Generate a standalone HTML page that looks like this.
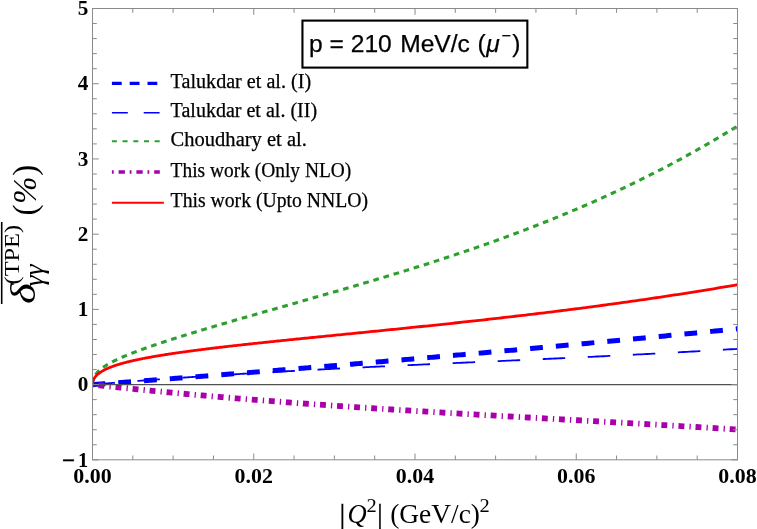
<!DOCTYPE html>
<html><head><meta charset="utf-8"><title>plot</title>
<style>
html,body{margin:0;padding:0;background:#fff;}
svg{display:block;will-change:transform;}
text{font-family:"Liberation Serif",serif;fill:#000;}
.sans{font-family:"Liberation Sans",sans-serif;}
</style></head><body>
<svg width="757" height="529" viewBox="0 0 757 529">
<rect width="757" height="529" fill="#fff"/>
<defs><clipPath id="cp"><rect x="92.5" y="8.50" width="645.0" height="451.32"/></clipPath></defs>
<g clip-path="url(#cp)" fill="none" stroke-linecap="butt" stroke-linejoin="round">
<path d="M92.50,384.60 L92.50,384.60 L92.52,384.60 L92.54,384.60 L92.56,384.60 L92.60,384.59 L92.65,384.59 L92.70,384.59 L92.76,384.58 L92.83,384.58 L92.91,384.57 L92.99,384.56 L93.08,384.56 L93.18,384.55 L93.29,384.54 L93.41,384.53 L93.54,384.52 L93.67,384.51 L93.81,384.50 L93.96,384.49 L94.12,384.48 L94.29,384.47 L94.46,384.46 L94.64,384.44 L94.83,384.43 L95.03,384.41 L95.24,384.40 L95.45,384.38 L95.68,384.37 L95.91,384.35 L96.15,384.33 L96.39,384.31 L96.65,384.29 L96.91,384.27 L97.18,384.25 L97.46,384.23 L97.75,384.21 L98.05,384.19 L98.35,384.17 L98.66,384.14 L98.98,384.12 L99.31,384.10 L99.65,384.07 L99.99,384.05 L100.34,384.02 L100.70,383.99 L101.07,383.97 L101.45,383.94 L101.83,383.91 L102.23,383.88 L102.63,383.85 L103.04,383.82 L103.46,383.79 L103.88,383.76 L104.31,383.73 L104.76,383.69 L105.21,383.66 L105.66,383.63 L106.13,383.59 L106.60,383.56 L107.09,383.52 L107.58,383.48 L108.07,383.45 L108.58,383.41 L109.09,383.37 L109.62,383.33 L110.15,383.29 L110.69,383.25 L111.23,383.21 L111.79,383.17 L112.35,383.13 L112.92,383.08 L113.50,383.04 L114.09,383.00 L114.69,382.95 L115.29,382.91 L115.90,382.86 L116.52,382.82 L117.15,382.77 L117.79,382.72 L118.43,382.67 L119.08,382.62 L119.74,382.58 L120.41,382.53 L121.09,382.47 L121.77,382.42 L122.46,382.37 L123.17,382.32 L123.87,382.27 L124.59,382.21 L125.32,382.16 L126.05,382.10 L126.79,382.05 L127.54,381.99 L128.30,381.93 L129.06,381.88 L129.84,381.82 L130.62,381.76 L131.41,381.70 L132.21,381.64 L133.01,381.58 L133.83,381.52 L134.65,381.45 L135.48,381.39 L136.32,381.33 L137.17,381.26 L138.02,381.20 L138.89,381.13 L139.76,381.07 L140.64,381.00 L141.52,380.94 L142.42,380.87 L143.32,380.80 L144.23,380.73 L145.15,380.66 L146.08,380.59 L147.02,380.52 L147.96,380.45 L148.91,380.37 L149.87,380.30 L150.84,380.23 L151.82,380.15 L152.80,380.08 L153.79,380.00 L154.80,379.93 L155.80,379.85 L156.82,379.77 L157.85,379.69 L158.88,379.62 L159.92,379.54 L160.97,379.46 L162.03,379.37 L163.09,379.29 L164.17,379.21 L165.25,379.13 L166.34,379.04 L167.44,378.96 L168.54,378.88 L169.66,378.79 L170.78,378.70 L171.91,378.62 L173.05,378.53 L174.19,378.44 L175.35,378.35 L176.51,378.26 L177.68,378.17 L178.86,378.08 L180.05,377.99 L181.24,377.90 L182.45,377.80 L183.66,377.71 L184.88,377.62 L186.11,377.52 L187.34,377.43 L188.58,377.33 L189.84,377.23 L191.10,377.13 L192.36,377.04 L193.64,376.94 L194.93,376.84 L196.22,376.74 L197.52,376.63 L198.83,376.53 L200.14,376.43 L201.47,376.33 L202.80,376.22 L204.14,376.12 L205.49,376.01 L206.85,375.91 L208.21,375.80 L209.59,375.69 L210.97,375.58 L212.36,375.47 L213.76,375.36 L215.16,375.25 L216.58,375.14 L218.00,375.03 L219.43,374.92 L220.87,374.80 L222.31,374.69 L223.77,374.58 L225.23,374.46 L226.70,374.34 L228.18,374.23 L229.67,374.11 L231.16,373.99 L232.67,373.87 L234.18,373.75 L235.70,373.63 L237.22,373.51 L238.76,373.39 L240.30,373.27 L241.85,373.14 L243.41,373.02 L244.98,372.89 L246.56,372.77 L248.14,372.64 L249.73,372.51 L251.33,372.38 L252.94,372.26 L254.56,372.13 L256.18,372.00 L257.82,371.87 L259.46,371.73 L261.11,371.60 L262.76,371.47 L264.43,371.33 L266.10,371.20 L267.78,371.06 L269.47,370.93 L271.17,370.79 L272.88,370.65 L274.59,370.51 L276.31,370.37 L278.04,370.23 L279.78,370.09 L281.53,369.95 L283.28,369.81 L285.04,369.66 L286.81,369.52 L288.59,369.38 L290.38,369.23 L292.17,369.08 L293.98,368.94 L295.79,368.79 L297.61,368.64 L299.43,368.49 L301.27,368.34 L303.11,368.19 L304.96,368.04 L306.82,367.88 L308.69,367.73 L310.57,367.58 L312.45,367.42 L314.34,367.26 L316.24,367.11 L318.15,366.95 L320.07,366.79 L321.99,366.63 L323.92,366.47 L325.87,366.31 L327.81,366.15 L329.77,365.99 L331.74,365.82 L333.71,365.66 L335.69,365.49 L337.68,365.33 L339.68,365.16 L341.68,364.99 L343.70,364.83 L345.72,364.66 L347.75,364.49 L349.79,364.32 L351.83,364.14 L353.89,363.97 L355.95,363.80 L358.02,363.62 L360.10,363.45 L362.18,363.27 L364.28,363.10 L366.38,362.92 L368.49,362.74 L370.61,362.56 L372.74,362.38 L374.87,362.20 L377.02,362.02 L379.17,361.83 L381.33,361.65 L383.49,361.47 L385.67,361.28 L387.85,361.09 L390.04,360.91 L392.24,360.72 L394.45,360.53 L396.67,360.34 L398.89,360.15 L401.13,359.96 L403.37,359.77 L405.61,359.57 L407.87,359.38 L410.14,359.18 L412.41,358.99 L414.69,358.79 L416.98,358.59 L419.28,358.39 L421.58,358.19 L423.90,357.99 L426.22,357.79 L428.55,357.59 L430.88,357.38 L433.23,357.18 L435.58,356.97 L437.95,356.77 L440.32,356.56 L442.69,356.35 L445.08,356.14 L447.47,355.93 L449.88,355.72 L452.29,355.51 L454.71,355.30 L457.13,355.09 L459.57,354.87 L462.01,354.65 L464.46,354.44 L466.92,354.22 L469.39,354.00 L471.86,353.78 L474.35,353.56 L476.84,353.34 L479.34,353.12 L481.85,352.90 L484.36,352.67 L486.89,352.45 L489.42,352.22 L491.96,351.99 L494.51,351.77 L497.06,351.54 L499.63,351.31 L502.20,351.07 L504.78,350.84 L507.37,350.61 L509.97,350.38 L512.57,350.14 L515.19,349.90 L517.81,349.67 L520.44,349.43 L523.08,349.19 L525.72,348.95 L528.37,348.71 L531.04,348.47 L533.71,348.22 L536.38,347.98 L539.07,347.73 L541.76,347.49 L544.47,347.24 L547.18,346.99 L549.90,346.74 L552.62,346.49 L555.36,346.24 L558.10,345.99 L560.85,345.74 L563.61,345.48 L566.38,345.23 L569.15,344.97 L571.94,344.71 L574.73,344.45 L577.53,344.19 L580.33,343.93 L583.15,343.67 L585.97,343.41 L588.81,343.14 L591.65,342.88 L594.49,342.61 L597.35,342.35 L600.22,342.08 L603.09,341.81 L605.97,341.54 L608.86,341.27 L611.75,340.99 L614.66,340.72 L617.57,340.45 L620.49,340.17 L623.42,339.89 L626.36,339.61 L629.31,339.34 L632.26,339.06 L635.22,338.77 L638.19,338.49 L641.17,338.21 L644.15,337.92 L647.15,337.64 L650.15,337.35 L653.16,337.06 L656.18,336.77 L659.21,336.48 L662.24,336.19 L665.28,335.90 L668.33,335.60 L671.39,335.31 L674.46,335.01 L677.53,334.72 L680.62,334.42 L683.71,334.12 L686.81,333.82 L689.92,333.51 L693.03,333.21 L696.15,332.91 L699.29,332.60 L702.43,332.30 L705.57,331.99 L708.73,331.68 L711.89,331.37 L715.07,331.06 L718.25,330.74 L721.44,330.43 L724.63,330.12 L727.84,329.80 L731.05,329.48 L734.27,329.16 L737.50,328.84" stroke="#0000ff" stroke-width="5" stroke-dasharray="12.8 13.03"/>
<path d="M92.50,384.60 L92.50,384.60 L92.52,384.60 L92.54,384.60 L92.56,384.59 L92.60,384.59 L92.65,384.59 L92.70,384.58 L92.76,384.58 L92.83,384.57 L92.91,384.57 L92.99,384.56 L93.08,384.55 L93.18,384.54 L93.29,384.53 L93.41,384.52 L93.54,384.51 L93.67,384.50 L93.81,384.49 L93.96,384.48 L94.12,384.46 L94.29,384.45 L94.46,384.43 L94.64,384.42 L94.83,384.40 L95.03,384.38 L95.24,384.37 L95.45,384.35 L95.68,384.33 L95.91,384.31 L96.15,384.29 L96.39,384.27 L96.65,384.25 L96.91,384.22 L97.18,384.20 L97.46,384.18 L97.75,384.15 L98.05,384.13 L98.35,384.10 L98.66,384.08 L98.98,384.05 L99.31,384.02 L99.65,383.99 L99.99,383.96 L100.34,383.94 L100.70,383.91 L101.07,383.87 L101.45,383.84 L101.83,383.81 L102.23,383.78 L102.63,383.74 L103.04,383.71 L103.46,383.68 L103.88,383.64 L104.31,383.60 L104.76,383.57 L105.21,383.53 L105.66,383.49 L106.13,383.45 L106.60,383.41 L107.09,383.37 L107.58,383.33 L108.07,383.29 L108.58,383.25 L109.09,383.21 L109.62,383.17 L110.15,383.12 L110.69,383.08 L111.23,383.03 L111.79,382.99 L112.35,382.94 L112.92,382.90 L113.50,382.85 L114.09,382.80 L114.69,382.75 L115.29,382.70 L115.90,382.65 L116.52,382.60 L117.15,382.55 L117.79,382.50 L118.43,382.45 L119.08,382.40 L119.74,382.35 L120.41,382.29 L121.09,382.24 L121.77,382.18 L122.46,382.13 L123.17,382.07 L123.87,382.02 L124.59,381.96 L125.32,381.90 L126.05,381.84 L126.79,381.79 L127.54,381.73 L128.30,381.67 L129.06,381.61 L129.84,381.55 L130.62,381.49 L131.41,381.42 L132.21,381.36 L133.01,381.30 L133.83,381.24 L134.65,381.17 L135.48,381.11 L136.32,381.04 L137.17,380.98 L138.02,380.91 L138.89,380.85 L139.76,380.78 L140.64,380.71 L141.52,380.65 L142.42,380.58 L143.32,380.51 L144.23,380.44 L145.15,380.37 L146.08,380.30 L147.02,380.23 L147.96,380.16 L148.91,380.09 L149.87,380.02 L150.84,379.95 L151.82,379.88 L152.80,379.80 L153.79,379.73 L154.80,379.66 L155.80,379.58 L156.82,379.51 L157.85,379.43 L158.88,379.36 L159.92,379.28 L160.97,379.20 L162.03,379.13 L163.09,379.05 L164.17,378.97 L165.25,378.90 L166.34,378.82 L167.44,378.74 L168.54,378.66 L169.66,378.58 L170.78,378.50 L171.91,378.42 L173.05,378.34 L174.19,378.26 L175.35,378.18 L176.51,378.10 L177.68,378.02 L178.86,377.94 L180.05,377.85 L181.24,377.77 L182.45,377.69 L183.66,377.60 L184.88,377.52 L186.11,377.44 L187.34,377.35 L188.58,377.27 L189.84,377.18 L191.10,377.10 L192.36,377.01 L193.64,376.93 L194.93,376.84 L196.22,376.75 L197.52,376.67 L198.83,376.58 L200.14,376.49 L201.47,376.40 L202.80,376.32 L204.14,376.23 L205.49,376.14 L206.85,376.05 L208.21,375.96 L209.59,375.87 L210.97,375.79 L212.36,375.70 L213.76,375.61 L215.16,375.52 L216.58,375.43 L218.00,375.34 L219.43,375.24 L220.87,375.15 L222.31,375.06 L223.77,374.97 L225.23,374.88 L226.70,374.79 L228.18,374.70 L229.67,374.60 L231.16,374.51 L232.67,374.42 L234.18,374.33 L235.70,374.23 L237.22,374.14 L238.76,374.05 L240.30,373.95 L241.85,373.86 L243.41,373.77 L244.98,373.67 L246.56,373.58 L248.14,373.48 L249.73,373.39 L251.33,373.29 L252.94,373.20 L254.56,373.10 L256.18,373.01 L257.82,372.91 L259.46,372.82 L261.11,372.72 L262.76,372.63 L264.43,372.53 L266.10,372.43 L267.78,372.34 L269.47,372.24 L271.17,372.14 L272.88,372.05 L274.59,371.95 L276.31,371.85 L278.04,371.76 L279.78,371.66 L281.53,371.56 L283.28,371.47 L285.04,371.37 L286.81,371.27 L288.59,371.17 L290.38,371.07 L292.17,370.98 L293.98,370.88 L295.79,370.78 L297.61,370.68 L299.43,370.58 L301.27,370.48 L303.11,370.39 L304.96,370.29 L306.82,370.19 L308.69,370.09 L310.57,369.99 L312.45,369.89 L314.34,369.79 L316.24,369.69 L318.15,369.59 L320.07,369.49 L321.99,369.39 L323.92,369.29 L325.87,369.19 L327.81,369.09 L329.77,368.99 L331.74,368.89 L333.71,368.79 L335.69,368.69 L337.68,368.59 L339.68,368.49 L341.68,368.39 L343.70,368.29 L345.72,368.19 L347.75,368.09 L349.79,367.99 L351.83,367.89 L353.89,367.79 L355.95,367.68 L358.02,367.58 L360.10,367.48 L362.18,367.38 L364.28,367.28 L366.38,367.18 L368.49,367.07 L370.61,366.97 L372.74,366.87 L374.87,366.77 L377.02,366.66 L379.17,366.56 L381.33,366.46 L383.49,366.35 L385.67,366.25 L387.85,366.15 L390.04,366.04 L392.24,365.94 L394.45,365.84 L396.67,365.73 L398.89,365.63 L401.13,365.53 L403.37,365.42 L405.61,365.32 L407.87,365.21 L410.14,365.11 L412.41,365.00 L414.69,364.90 L416.98,364.79 L419.28,364.69 L421.58,364.58 L423.90,364.47 L426.22,364.37 L428.55,364.26 L430.88,364.15 L433.23,364.05 L435.58,363.94 L437.95,363.83 L440.32,363.73 L442.69,363.62 L445.08,363.51 L447.47,363.40 L449.88,363.29 L452.29,363.18 L454.71,363.07 L457.13,362.96 L459.57,362.86 L462.01,362.74 L464.46,362.63 L466.92,362.52 L469.39,362.41 L471.86,362.30 L474.35,362.19 L476.84,362.08 L479.34,361.97 L481.85,361.85 L484.36,361.74 L486.89,361.63 L489.42,361.51 L491.96,361.40 L494.51,361.28 L497.06,361.17 L499.63,361.05 L502.20,360.94 L504.78,360.82 L507.37,360.70 L509.97,360.59 L512.57,360.47 L515.19,360.35 L517.81,360.23 L520.44,360.11 L523.08,359.99 L525.72,359.87 L528.37,359.75 L531.04,359.63 L533.71,359.51 L536.38,359.39 L539.07,359.26 L541.76,359.14 L544.47,359.02 L547.18,358.89 L549.90,358.76 L552.62,358.64 L555.36,358.51 L558.10,358.38 L560.85,358.26 L563.61,358.13 L566.38,358.00 L569.15,357.87 L571.94,357.74 L574.73,357.60 L577.53,357.47 L580.33,357.34 L583.15,357.20 L585.97,357.07 L588.81,356.93 L591.65,356.79 L594.49,356.66 L597.35,356.52 L600.22,356.38 L603.09,356.24 L605.97,356.10 L608.86,355.95 L611.75,355.81 L614.66,355.67 L617.57,355.52 L620.49,355.37 L623.42,355.23 L626.36,355.08 L629.31,354.93 L632.26,354.78 L635.22,354.63 L638.19,354.47 L641.17,354.32 L644.15,354.16 L647.15,354.01 L650.15,353.85 L653.16,353.69 L656.18,353.53 L659.21,353.37 L662.24,353.20 L665.28,353.04 L668.33,352.87 L671.39,352.71 L674.46,352.54 L677.53,352.37 L680.62,352.20 L683.71,352.02 L686.81,351.85 L689.92,351.67 L693.03,351.50 L696.15,351.32 L699.29,351.14 L702.43,350.95 L705.57,350.77 L708.73,350.58 L711.89,350.40 L715.07,350.21 L718.25,350.02 L721.44,349.82 L724.63,349.63 L727.84,349.43 L731.05,349.24 L734.27,349.04 L737.50,348.83" stroke="#0000ff" stroke-width="1.8" stroke-dasharray="22.5 22.6"/>
<path d="M92.50,384.60 L92.50,384.20 L92.52,383.80 L92.54,383.41 L92.56,383.01 L92.60,382.63 L92.65,382.24 L92.70,381.86 L92.76,381.49 L92.83,381.12 L92.91,380.75 L92.99,380.38 L93.08,380.01 L93.18,379.65 L93.29,379.30 L93.41,378.94 L93.54,378.59 L93.67,378.24 L93.81,377.89 L93.96,377.55 L94.12,377.21 L94.29,376.87 L94.46,376.53 L94.64,376.19 L94.83,375.86 L95.03,375.53 L95.24,375.20 L95.45,374.87 L95.68,374.55 L95.91,374.23 L96.15,373.90 L96.39,373.58 L96.65,373.27 L96.91,372.95 L97.18,372.64 L97.46,372.32 L97.75,372.01 L98.05,371.70 L98.35,371.39 L98.66,371.08 L98.98,370.77 L99.31,370.47 L99.65,370.16 L99.99,369.86 L100.34,369.55 L100.70,369.25 L101.07,368.95 L101.45,368.65 L101.83,368.35 L102.23,368.05 L102.63,367.75 L103.04,367.46 L103.46,367.16 L103.88,366.86 L104.31,366.56 L104.76,366.27 L105.21,365.97 L105.66,365.68 L106.13,365.38 L106.60,365.09 L107.09,364.79 L107.58,364.50 L108.07,364.20 L108.58,363.91 L109.09,363.62 L109.62,363.32 L110.15,363.03 L110.69,362.73 L111.23,362.44 L111.79,362.15 L112.35,361.85 L112.92,361.56 L113.50,361.26 L114.09,360.97 L114.69,360.67 L115.29,360.37 L115.90,360.08 L116.52,359.78 L117.15,359.48 L117.79,359.19 L118.43,358.89 L119.08,358.59 L119.74,358.29 L120.41,357.99 L121.09,357.69 L121.77,357.39 L122.46,357.09 L123.17,356.79 L123.87,356.48 L124.59,356.18 L125.32,355.88 L126.05,355.57 L126.79,355.26 L127.54,354.96 L128.30,354.65 L129.06,354.34 L129.84,354.03 L130.62,353.72 L131.41,353.41 L132.21,353.10 L133.01,352.79 L133.83,352.47 L134.65,352.16 L135.48,351.84 L136.32,351.53 L137.17,351.21 L138.02,350.89 L138.89,350.57 L139.76,350.25 L140.64,349.93 L141.52,349.60 L142.42,349.28 L143.32,348.95 L144.23,348.63 L145.15,348.30 L146.08,347.97 L147.02,347.64 L147.96,347.31 L148.91,346.98 L149.87,346.64 L150.84,346.31 L151.82,345.97 L152.80,345.63 L153.79,345.29 L154.80,344.95 L155.80,344.61 L156.82,344.27 L157.85,343.93 L158.88,343.58 L159.92,343.23 L160.97,342.89 L162.03,342.54 L163.09,342.18 L164.17,341.83 L165.25,341.48 L166.34,341.12 L167.44,340.77 L168.54,340.41 L169.66,340.05 L170.78,339.69 L171.91,339.33 L173.05,338.96 L174.19,338.60 L175.35,338.23 L176.51,337.86 L177.68,337.49 L178.86,337.12 L180.05,336.75 L181.24,336.38 L182.45,336.00 L183.66,335.62 L184.88,335.24 L186.11,334.86 L187.34,334.48 L188.58,334.10 L189.84,333.71 L191.10,333.33 L192.36,332.94 L193.64,332.55 L194.93,332.16 L196.22,331.77 L197.52,331.37 L198.83,330.98 L200.14,330.58 L201.47,330.18 L202.80,329.78 L204.14,329.38 L205.49,328.97 L206.85,328.57 L208.21,328.16 L209.59,327.75 L210.97,327.34 L212.36,326.93 L213.76,326.51 L215.16,326.10 L216.58,325.68 L218.00,325.26 L219.43,324.84 L220.87,324.42 L222.31,323.99 L223.77,323.57 L225.23,323.14 L226.70,322.71 L228.18,322.28 L229.67,321.84 L231.16,321.41 L232.67,320.97 L234.18,320.53 L235.70,320.09 L237.22,319.65 L238.76,319.20 L240.30,318.76 L241.85,318.31 L243.41,317.86 L244.98,317.41 L246.56,316.95 L248.14,316.50 L249.73,316.04 L251.33,315.58 L252.94,315.12 L254.56,314.66 L256.18,314.19 L257.82,313.72 L259.46,313.25 L261.11,312.78 L262.76,312.31 L264.43,311.83 L266.10,311.36 L267.78,310.88 L269.47,310.39 L271.17,309.91 L272.88,309.42 L274.59,308.94 L276.31,308.44 L278.04,307.95 L279.78,307.46 L281.53,306.96 L283.28,306.46 L285.04,305.96 L286.81,305.45 L288.59,304.95 L290.38,304.44 L292.17,303.93 L293.98,303.42 L295.79,302.90 L297.61,302.38 L299.43,301.86 L301.27,301.34 L303.11,300.81 L304.96,300.28 L306.82,299.75 L308.69,299.22 L310.57,298.68 L312.45,298.14 L314.34,297.60 L316.24,297.06 L318.15,296.51 L320.07,295.96 L321.99,295.41 L323.92,294.86 L325.87,294.30 L327.81,293.74 L329.77,293.17 L331.74,292.61 L333.71,292.04 L335.69,291.47 L337.68,290.89 L339.68,290.31 L341.68,289.73 L343.70,289.14 L345.72,288.56 L347.75,287.97 L349.79,287.37 L351.83,286.77 L353.89,286.17 L355.95,285.57 L358.02,284.96 L360.10,284.35 L362.18,283.73 L364.28,283.11 L366.38,282.49 L368.49,281.87 L370.61,281.24 L372.74,280.60 L374.87,279.97 L377.02,279.33 L379.17,278.68 L381.33,278.03 L383.49,277.38 L385.67,276.72 L387.85,276.06 L390.04,275.40 L392.24,274.73 L394.45,274.06 L396.67,273.38 L398.89,272.70 L401.13,272.01 L403.37,271.32 L405.61,270.63 L407.87,269.93 L410.14,269.22 L412.41,268.51 L414.69,267.80 L416.98,267.08 L419.28,266.36 L421.58,265.63 L423.90,264.90 L426.22,264.16 L428.55,263.42 L430.88,262.67 L433.23,261.91 L435.58,261.15 L437.95,260.39 L440.32,259.62 L442.69,258.84 L445.08,258.06 L447.47,257.27 L449.88,256.48 L452.29,255.68 L454.71,254.88 L457.13,254.07 L459.57,253.25 L462.01,252.43 L464.46,251.60 L466.92,250.76 L469.39,249.92 L471.86,249.07 L474.35,248.22 L476.84,247.35 L479.34,246.49 L481.85,245.61 L484.36,244.73 L486.89,243.84 L489.42,242.94 L491.96,242.04 L494.51,241.13 L497.06,240.21 L499.63,239.28 L502.20,238.35 L504.78,237.41 L507.37,236.46 L509.97,235.50 L512.57,234.54 L515.19,233.56 L517.81,232.58 L520.44,231.59 L523.08,230.59 L525.72,229.59 L528.37,228.57 L531.04,227.55 L533.71,226.51 L536.38,225.47 L539.07,224.42 L541.76,223.36 L544.47,222.29 L547.18,221.21 L549.90,220.12 L552.62,219.03 L555.36,217.92 L558.10,216.80 L560.85,215.67 L563.61,214.53 L566.38,213.39 L569.15,212.23 L571.94,211.06 L574.73,209.88 L577.53,208.69 L580.33,207.48 L583.15,206.27 L585.97,205.05 L588.81,203.81 L591.65,202.56 L594.49,201.30 L597.35,200.03 L600.22,198.75 L603.09,197.46 L605.97,196.15 L608.86,194.83 L611.75,193.50 L614.66,192.15 L617.57,190.80 L620.49,189.43 L623.42,188.04 L626.36,186.65 L629.31,185.24 L632.26,183.81 L635.22,182.38 L638.19,180.93 L641.17,179.46 L644.15,177.98 L647.15,176.49 L650.15,174.98 L653.16,173.46 L656.18,171.92 L659.21,170.36 L662.24,168.80 L665.28,167.21 L668.33,165.61 L671.39,164.00 L674.46,162.37 L677.53,160.72 L680.62,159.06 L683.71,157.38 L686.81,155.68 L689.92,153.96 L693.03,152.23 L696.15,150.49 L699.29,148.72 L702.43,146.94 L705.57,145.14 L708.73,143.32 L711.89,141.48 L715.07,139.62 L718.25,137.75 L721.44,135.86 L724.63,133.94 L727.84,132.01 L731.05,130.06 L734.27,128.09 L737.50,126.10" stroke="#2ca02c" stroke-width="3.1" stroke-dasharray="5.7 4.836"/>
<path d="M92.50,384.60 L92.50,384.60 L92.52,384.60 L92.54,384.60 L92.56,384.61 L92.60,384.61 L92.65,384.62 L92.70,384.62 L92.76,384.63 L92.83,384.64 L92.91,384.64 L92.99,384.65 L93.08,384.66 L93.18,384.68 L93.29,384.69 L93.41,384.70 L93.54,384.71 L93.67,384.73 L93.81,384.74 L93.96,384.76 L94.12,384.78 L94.29,384.80 L94.46,384.82 L94.64,384.84 L94.83,384.86 L95.03,384.88 L95.24,384.90 L95.45,384.92 L95.68,384.95 L95.91,384.97 L96.15,385.00 L96.39,385.03 L96.65,385.06 L96.91,385.08 L97.18,385.11 L97.46,385.14 L97.75,385.18 L98.05,385.21 L98.35,385.24 L98.66,385.28 L98.98,385.31 L99.31,385.35 L99.65,385.38 L99.99,385.42 L100.34,385.46 L100.70,385.50 L101.07,385.54 L101.45,385.58 L101.83,385.62 L102.23,385.66 L102.63,385.71 L103.04,385.75 L103.46,385.80 L103.88,385.84 L104.31,385.89 L104.76,385.94 L105.21,385.98 L105.66,386.03 L106.13,386.08 L106.60,386.13 L107.09,386.19 L107.58,386.24 L108.07,386.29 L108.58,386.35 L109.09,386.40 L109.62,386.46 L110.15,386.51 L110.69,386.57 L111.23,386.63 L111.79,386.69 L112.35,386.75 L112.92,386.81 L113.50,386.87 L114.09,386.93 L114.69,386.99 L115.29,387.06 L115.90,387.12 L116.52,387.19 L117.15,387.25 L117.79,387.32 L118.43,387.39 L119.08,387.45 L119.74,387.52 L120.41,387.59 L121.09,387.66 L121.77,387.73 L122.46,387.81 L123.17,387.88 L123.87,387.95 L124.59,388.03 L125.32,388.10 L126.05,388.18 L126.79,388.25 L127.54,388.33 L128.30,388.41 L129.06,388.49 L129.84,388.56 L130.62,388.64 L131.41,388.72 L132.21,388.81 L133.01,388.89 L133.83,388.97 L134.65,389.05 L135.48,389.14 L136.32,389.22 L137.17,389.31 L138.02,389.39 L138.89,389.48 L139.76,389.57 L140.64,389.65 L141.52,389.74 L142.42,389.83 L143.32,389.92 L144.23,390.01 L145.15,390.10 L146.08,390.19 L147.02,390.29 L147.96,390.38 L148.91,390.47 L149.87,390.57 L150.84,390.66 L151.82,390.76 L152.80,390.85 L153.79,390.95 L154.80,391.05 L155.80,391.14 L156.82,391.24 L157.85,391.34 L158.88,391.44 L159.92,391.54 L160.97,391.64 L162.03,391.74 L163.09,391.84 L164.17,391.95 L165.25,392.05 L166.34,392.15 L167.44,392.26 L168.54,392.36 L169.66,392.47 L170.78,392.57 L171.91,392.68 L173.05,392.78 L174.19,392.89 L175.35,393.00 L176.51,393.11 L177.68,393.21 L178.86,393.32 L180.05,393.43 L181.24,393.54 L182.45,393.65 L183.66,393.76 L184.88,393.88 L186.11,393.99 L187.34,394.10 L188.58,394.21 L189.84,394.32 L191.10,394.44 L192.36,394.55 L193.64,394.67 L194.93,394.78 L196.22,394.90 L197.52,395.01 L198.83,395.13 L200.14,395.25 L201.47,395.36 L202.80,395.48 L204.14,395.60 L205.49,395.72 L206.85,395.83 L208.21,395.95 L209.59,396.07 L210.97,396.19 L212.36,396.31 L213.76,396.43 L215.16,396.55 L216.58,396.67 L218.00,396.80 L219.43,396.92 L220.87,397.04 L222.31,397.16 L223.77,397.28 L225.23,397.41 L226.70,397.53 L228.18,397.65 L229.67,397.78 L231.16,397.90 L232.67,398.03 L234.18,398.15 L235.70,398.28 L237.22,398.40 L238.76,398.53 L240.30,398.66 L241.85,398.78 L243.41,398.91 L244.98,399.04 L246.56,399.16 L248.14,399.29 L249.73,399.42 L251.33,399.55 L252.94,399.67 L254.56,399.80 L256.18,399.93 L257.82,400.06 L259.46,400.19 L261.11,400.32 L262.76,400.45 L264.43,400.58 L266.10,400.71 L267.78,400.84 L269.47,400.97 L271.17,401.10 L272.88,401.23 L274.59,401.36 L276.31,401.49 L278.04,401.63 L279.78,401.76 L281.53,401.89 L283.28,402.02 L285.04,402.15 L286.81,402.29 L288.59,402.42 L290.38,402.55 L292.17,402.69 L293.98,402.82 L295.79,402.95 L297.61,403.09 L299.43,403.22 L301.27,403.35 L303.11,403.49 L304.96,403.62 L306.82,403.76 L308.69,403.89 L310.57,404.03 L312.45,404.16 L314.34,404.30 L316.24,404.43 L318.15,404.57 L320.07,404.70 L321.99,404.84 L323.92,404.97 L325.87,405.11 L327.81,405.24 L329.77,405.38 L331.74,405.52 L333.71,405.65 L335.69,405.79 L337.68,405.92 L339.68,406.06 L341.68,406.20 L343.70,406.33 L345.72,406.47 L347.75,406.61 L349.79,406.74 L351.83,406.88 L353.89,407.02 L355.95,407.16 L358.02,407.29 L360.10,407.43 L362.18,407.57 L364.28,407.71 L366.38,407.84 L368.49,407.98 L370.61,408.12 L372.74,408.26 L374.87,408.40 L377.02,408.54 L379.17,408.67 L381.33,408.81 L383.49,408.95 L385.67,409.09 L387.85,409.23 L390.04,409.37 L392.24,409.51 L394.45,409.65 L396.67,409.78 L398.89,409.92 L401.13,410.06 L403.37,410.20 L405.61,410.34 L407.87,410.48 L410.14,410.62 L412.41,410.76 L414.69,410.90 L416.98,411.04 L419.28,411.18 L421.58,411.32 L423.90,411.46 L426.22,411.60 L428.55,411.74 L430.88,411.89 L433.23,412.03 L435.58,412.17 L437.95,412.31 L440.32,412.45 L442.69,412.59 L445.08,412.73 L447.47,412.87 L449.88,413.02 L452.29,413.16 L454.71,413.30 L457.13,413.44 L459.57,413.59 L462.01,413.73 L464.46,413.87 L466.92,414.01 L469.39,414.16 L471.86,414.30 L474.35,414.44 L476.84,414.59 L479.34,414.73 L481.85,414.88 L484.36,415.02 L486.89,415.17 L489.42,415.31 L491.96,415.46 L494.51,415.60 L497.06,415.75 L499.63,415.89 L502.20,416.04 L504.78,416.18 L507.37,416.33 L509.97,416.48 L512.57,416.62 L515.19,416.77 L517.81,416.92 L520.44,417.07 L523.08,417.21 L525.72,417.36 L528.37,417.51 L531.04,417.66 L533.71,417.81 L536.38,417.96 L539.07,418.11 L541.76,418.26 L544.47,418.41 L547.18,418.56 L549.90,418.71 L552.62,418.87 L555.36,419.02 L558.10,419.17 L560.85,419.32 L563.61,419.48 L566.38,419.63 L569.15,419.78 L571.94,419.94 L574.73,420.10 L577.53,420.25 L580.33,420.41 L583.15,420.56 L585.97,420.72 L588.81,420.88 L591.65,421.04 L594.49,421.20 L597.35,421.36 L600.22,421.52 L603.09,421.68 L605.97,421.84 L608.86,422.00 L611.75,422.16 L614.66,422.33 L617.57,422.49 L620.49,422.65 L623.42,422.82 L626.36,422.98 L629.31,423.15 L632.26,423.32 L635.22,423.49 L638.19,423.65 L641.17,423.82 L644.15,423.99 L647.15,424.17 L650.15,424.34 L653.16,424.51 L656.18,424.68 L659.21,424.86 L662.24,425.03 L665.28,425.21 L668.33,425.39 L671.39,425.56 L674.46,425.74 L677.53,425.92 L680.62,426.10 L683.71,426.29 L686.81,426.47 L689.92,426.65 L693.03,426.84 L696.15,427.02 L699.29,427.21 L702.43,427.40 L705.57,427.59 L708.73,427.78 L711.89,427.97 L715.07,428.16 L718.25,428.36 L721.44,428.55 L724.63,428.75 L727.84,428.95 L731.05,429.15 L734.27,429.35 L737.50,429.55" stroke="#aa00aa" stroke-width="5.8" stroke-dasharray="1.3 4.8 5.9 5.1"/>
<path d="M92.50,384.60 L92.50,384.27 L92.52,383.95 L92.54,383.63 L92.56,383.31 L92.60,383.00 L92.65,382.68 L92.70,382.37 L92.76,382.06 L92.83,381.76 L92.91,381.45 L92.99,381.15 L93.08,380.85 L93.18,380.55 L93.29,380.26 L93.41,379.97 L93.54,379.67 L93.67,379.39 L93.81,379.10 L93.96,378.82 L94.12,378.53 L94.29,378.25 L94.46,377.97 L94.64,377.70 L94.83,377.42 L95.03,377.15 L95.24,376.88 L95.45,376.61 L95.68,376.35 L95.91,376.08 L96.15,375.82 L96.39,375.56 L96.65,375.30 L96.91,375.04 L97.18,374.78 L97.46,374.53 L97.75,374.28 L98.05,374.02 L98.35,373.77 L98.66,373.53 L98.98,373.28 L99.31,373.04 L99.65,372.79 L99.99,372.55 L100.34,372.31 L100.70,372.07 L101.07,371.83 L101.45,371.60 L101.83,371.36 L102.23,371.13 L102.63,370.90 L103.04,370.67 L103.46,370.44 L103.88,370.21 L104.31,369.99 L104.76,369.76 L105.21,369.54 L105.66,369.31 L106.13,369.09 L106.60,368.87 L107.09,368.65 L107.58,368.44 L108.07,368.22 L108.58,368.00 L109.09,367.79 L109.62,367.57 L110.15,367.36 L110.69,367.15 L111.23,366.94 L111.79,366.73 L112.35,366.52 L112.92,366.32 L113.50,366.11 L114.09,365.90 L114.69,365.70 L115.29,365.50 L115.90,365.29 L116.52,365.09 L117.15,364.89 L117.79,364.69 L118.43,364.49 L119.08,364.30 L119.74,364.10 L120.41,363.90 L121.09,363.71 L121.77,363.51 L122.46,363.32 L123.17,363.12 L123.87,362.93 L124.59,362.74 L125.32,362.55 L126.05,362.36 L126.79,362.17 L127.54,361.98 L128.30,361.79 L129.06,361.60 L129.84,361.42 L130.62,361.23 L131.41,361.04 L132.21,360.86 L133.01,360.67 L133.83,360.49 L134.65,360.31 L135.48,360.12 L136.32,359.94 L137.17,359.76 L138.02,359.58 L138.89,359.40 L139.76,359.22 L140.64,359.04 L141.52,358.86 L142.42,358.68 L143.32,358.50 L144.23,358.32 L145.15,358.15 L146.08,357.97 L147.02,357.79 L147.96,357.62 L148.91,357.44 L149.87,357.26 L150.84,357.09 L151.82,356.91 L152.80,356.74 L153.79,356.56 L154.80,356.39 L155.80,356.22 L156.82,356.04 L157.85,355.87 L158.88,355.70 L159.92,355.53 L160.97,355.35 L162.03,355.18 L163.09,355.01 L164.17,354.84 L165.25,354.67 L166.34,354.50 L167.44,354.33 L168.54,354.16 L169.66,353.99 L170.78,353.82 L171.91,353.65 L173.05,353.48 L174.19,353.31 L175.35,353.14 L176.51,352.97 L177.68,352.80 L178.86,352.63 L180.05,352.46 L181.24,352.29 L182.45,352.13 L183.66,351.96 L184.88,351.79 L186.11,351.62 L187.34,351.45 L188.58,351.28 L189.84,351.12 L191.10,350.95 L192.36,350.78 L193.64,350.61 L194.93,350.44 L196.22,350.28 L197.52,350.11 L198.83,349.94 L200.14,349.77 L201.47,349.60 L202.80,349.44 L204.14,349.27 L205.49,349.10 L206.85,348.93 L208.21,348.76 L209.59,348.59 L210.97,348.43 L212.36,348.26 L213.76,348.09 L215.16,347.92 L216.58,347.75 L218.00,347.58 L219.43,347.41 L220.87,347.24 L222.31,347.08 L223.77,346.91 L225.23,346.74 L226.70,346.57 L228.18,346.40 L229.67,346.23 L231.16,346.06 L232.67,345.89 L234.18,345.72 L235.70,345.54 L237.22,345.37 L238.76,345.20 L240.30,345.03 L241.85,344.86 L243.41,344.69 L244.98,344.51 L246.56,344.34 L248.14,344.17 L249.73,344.00 L251.33,343.82 L252.94,343.65 L254.56,343.47 L256.18,343.30 L257.82,343.13 L259.46,342.95 L261.11,342.77 L262.76,342.60 L264.43,342.42 L266.10,342.25 L267.78,342.07 L269.47,341.89 L271.17,341.72 L272.88,341.54 L274.59,341.36 L276.31,341.18 L278.04,341.00 L279.78,340.82 L281.53,340.64 L283.28,340.46 L285.04,340.28 L286.81,340.10 L288.59,339.92 L290.38,339.73 L292.17,339.55 L293.98,339.37 L295.79,339.18 L297.61,339.00 L299.43,338.81 L301.27,338.63 L303.11,338.44 L304.96,338.25 L306.82,338.07 L308.69,337.88 L310.57,337.69 L312.45,337.50 L314.34,337.31 L316.24,337.12 L318.15,336.93 L320.07,336.74 L321.99,336.54 L323.92,336.35 L325.87,336.16 L327.81,335.96 L329.77,335.77 L331.74,335.57 L333.71,335.37 L335.69,335.18 L337.68,334.98 L339.68,334.78 L341.68,334.58 L343.70,334.38 L345.72,334.18 L347.75,333.97 L349.79,333.77 L351.83,333.57 L353.89,333.36 L355.95,333.16 L358.02,332.95 L360.10,332.74 L362.18,332.53 L364.28,332.32 L366.38,332.11 L368.49,331.90 L370.61,331.69 L372.74,331.48 L374.87,331.26 L377.02,331.05 L379.17,330.83 L381.33,330.61 L383.49,330.39 L385.67,330.17 L387.85,329.95 L390.04,329.73 L392.24,329.51 L394.45,329.29 L396.67,329.06 L398.89,328.83 L401.13,328.61 L403.37,328.38 L405.61,328.15 L407.87,327.92 L410.14,327.69 L412.41,327.45 L414.69,327.22 L416.98,326.98 L419.28,326.74 L421.58,326.50 L423.90,326.26 L426.22,326.02 L428.55,325.78 L430.88,325.54 L433.23,325.29 L435.58,325.04 L437.95,324.79 L440.32,324.54 L442.69,324.29 L445.08,324.04 L447.47,323.79 L449.88,323.53 L452.29,323.27 L454.71,323.01 L457.13,322.75 L459.57,322.49 L462.01,322.23 L464.46,321.96 L466.92,321.69 L469.39,321.42 L471.86,321.15 L474.35,320.88 L476.84,320.60 L479.34,320.33 L481.85,320.05 L484.36,319.77 L486.89,319.49 L489.42,319.21 L491.96,318.92 L494.51,318.63 L497.06,318.34 L499.63,318.05 L502.20,317.76 L504.78,317.46 L507.37,317.17 L509.97,316.87 L512.57,316.56 L515.19,316.26 L517.81,315.95 L520.44,315.65 L523.08,315.34 L525.72,315.02 L528.37,314.71 L531.04,314.39 L533.71,314.07 L536.38,313.75 L539.07,313.43 L541.76,313.10 L544.47,312.77 L547.18,312.44 L549.90,312.11 L552.62,311.77 L555.36,311.43 L558.10,311.09 L560.85,310.75 L563.61,310.40 L566.38,310.05 L569.15,309.70 L571.94,309.35 L574.73,308.99 L577.53,308.63 L580.33,308.27 L583.15,307.90 L585.97,307.53 L588.81,307.16 L591.65,306.79 L594.49,306.41 L597.35,306.03 L600.22,305.65 L603.09,305.26 L605.97,304.87 L608.86,304.48 L611.75,304.08 L614.66,303.68 L617.57,303.28 L620.49,302.88 L623.42,302.47 L626.36,302.06 L629.31,301.64 L632.26,301.22 L635.22,300.80 L638.19,300.38 L641.17,299.95 L644.15,299.52 L647.15,299.08 L650.15,298.64 L653.16,298.20 L656.18,297.75 L659.21,297.30 L662.24,296.85 L665.28,296.39 L668.33,295.93 L671.39,295.46 L674.46,294.99 L677.53,294.52 L680.62,294.04 L683.71,293.56 L686.81,293.07 L689.92,292.58 L693.03,292.09 L696.15,291.59 L699.29,291.09 L702.43,290.58 L705.57,290.07 L708.73,289.55 L711.89,289.03 L715.07,288.51 L718.25,287.98 L721.44,287.45 L724.63,286.91 L727.84,286.37 L731.05,285.82 L734.27,285.27 L737.50,284.71" stroke="#ff0000" stroke-width="2.8"/>
</g>
<!-- zero axis -->
<line x1="92.5" y1="384.6" x2="737.5" y2="384.6" stroke="#505050" stroke-width="1.05"/>
<!-- frame -->
<g stroke="#8a8a8a" stroke-width="1" fill="none">
<rect x="92.5" y="8.50" width="645.0" height="451.32"/>
<line x1="92.50" y1="459.82" x2="92.50" y2="453.52"/>
<line x1="92.50" y1="8.50" x2="92.50" y2="14.80"/>
<line x1="132.81" y1="459.82" x2="132.81" y2="455.52"/>
<line x1="132.81" y1="8.50" x2="132.81" y2="12.80"/>
<line x1="173.12" y1="459.82" x2="173.12" y2="455.52"/>
<line x1="173.12" y1="8.50" x2="173.12" y2="12.80"/>
<line x1="213.44" y1="459.82" x2="213.44" y2="455.52"/>
<line x1="213.44" y1="8.50" x2="213.44" y2="12.80"/>
<line x1="253.75" y1="459.82" x2="253.75" y2="453.52"/>
<line x1="253.75" y1="8.50" x2="253.75" y2="14.80"/>
<line x1="294.06" y1="459.82" x2="294.06" y2="455.52"/>
<line x1="294.06" y1="8.50" x2="294.06" y2="12.80"/>
<line x1="334.38" y1="459.82" x2="334.38" y2="455.52"/>
<line x1="334.38" y1="8.50" x2="334.38" y2="12.80"/>
<line x1="374.69" y1="459.82" x2="374.69" y2="455.52"/>
<line x1="374.69" y1="8.50" x2="374.69" y2="12.80"/>
<line x1="415.00" y1="459.82" x2="415.00" y2="453.52"/>
<line x1="415.00" y1="8.50" x2="415.00" y2="14.80"/>
<line x1="455.31" y1="459.82" x2="455.31" y2="455.52"/>
<line x1="455.31" y1="8.50" x2="455.31" y2="12.80"/>
<line x1="495.62" y1="459.82" x2="495.62" y2="455.52"/>
<line x1="495.62" y1="8.50" x2="495.62" y2="12.80"/>
<line x1="535.94" y1="459.82" x2="535.94" y2="455.52"/>
<line x1="535.94" y1="8.50" x2="535.94" y2="12.80"/>
<line x1="576.25" y1="459.82" x2="576.25" y2="453.52"/>
<line x1="576.25" y1="8.50" x2="576.25" y2="14.80"/>
<line x1="616.56" y1="459.82" x2="616.56" y2="455.52"/>
<line x1="616.56" y1="8.50" x2="616.56" y2="12.80"/>
<line x1="656.88" y1="459.82" x2="656.88" y2="455.52"/>
<line x1="656.88" y1="8.50" x2="656.88" y2="12.80"/>
<line x1="697.19" y1="459.82" x2="697.19" y2="455.52"/>
<line x1="697.19" y1="8.50" x2="697.19" y2="12.80"/>
<line x1="737.50" y1="459.82" x2="737.50" y2="453.52"/>
<line x1="737.50" y1="8.50" x2="737.50" y2="14.80"/>
<line x1="92.50" y1="459.82" x2="98.80" y2="459.82"/>
<line x1="737.50" y1="459.82" x2="731.20" y2="459.82"/>
<line x1="92.50" y1="444.78" x2="96.80" y2="444.78"/>
<line x1="737.50" y1="444.78" x2="733.20" y2="444.78"/>
<line x1="92.50" y1="429.73" x2="96.80" y2="429.73"/>
<line x1="737.50" y1="429.73" x2="733.20" y2="429.73"/>
<line x1="92.50" y1="414.69" x2="96.80" y2="414.69"/>
<line x1="737.50" y1="414.69" x2="733.20" y2="414.69"/>
<line x1="92.50" y1="399.64" x2="96.80" y2="399.64"/>
<line x1="737.50" y1="399.64" x2="733.20" y2="399.64"/>
<line x1="92.50" y1="384.60" x2="98.80" y2="384.60"/>
<line x1="737.50" y1="384.60" x2="731.20" y2="384.60"/>
<line x1="92.50" y1="369.56" x2="96.80" y2="369.56"/>
<line x1="737.50" y1="369.56" x2="733.20" y2="369.56"/>
<line x1="92.50" y1="354.51" x2="96.80" y2="354.51"/>
<line x1="737.50" y1="354.51" x2="733.20" y2="354.51"/>
<line x1="92.50" y1="339.47" x2="96.80" y2="339.47"/>
<line x1="737.50" y1="339.47" x2="733.20" y2="339.47"/>
<line x1="92.50" y1="324.42" x2="96.80" y2="324.42"/>
<line x1="737.50" y1="324.42" x2="733.20" y2="324.42"/>
<line x1="92.50" y1="309.38" x2="98.80" y2="309.38"/>
<line x1="737.50" y1="309.38" x2="731.20" y2="309.38"/>
<line x1="92.50" y1="294.34" x2="96.80" y2="294.34"/>
<line x1="737.50" y1="294.34" x2="733.20" y2="294.34"/>
<line x1="92.50" y1="279.29" x2="96.80" y2="279.29"/>
<line x1="737.50" y1="279.29" x2="733.20" y2="279.29"/>
<line x1="92.50" y1="264.25" x2="96.80" y2="264.25"/>
<line x1="737.50" y1="264.25" x2="733.20" y2="264.25"/>
<line x1="92.50" y1="249.20" x2="96.80" y2="249.20"/>
<line x1="737.50" y1="249.20" x2="733.20" y2="249.20"/>
<line x1="92.50" y1="234.16" x2="98.80" y2="234.16"/>
<line x1="737.50" y1="234.16" x2="731.20" y2="234.16"/>
<line x1="92.50" y1="219.12" x2="96.80" y2="219.12"/>
<line x1="737.50" y1="219.12" x2="733.20" y2="219.12"/>
<line x1="92.50" y1="204.07" x2="96.80" y2="204.07"/>
<line x1="737.50" y1="204.07" x2="733.20" y2="204.07"/>
<line x1="92.50" y1="189.03" x2="96.80" y2="189.03"/>
<line x1="737.50" y1="189.03" x2="733.20" y2="189.03"/>
<line x1="92.50" y1="173.98" x2="96.80" y2="173.98"/>
<line x1="737.50" y1="173.98" x2="733.20" y2="173.98"/>
<line x1="92.50" y1="158.94" x2="98.80" y2="158.94"/>
<line x1="737.50" y1="158.94" x2="731.20" y2="158.94"/>
<line x1="92.50" y1="143.90" x2="96.80" y2="143.90"/>
<line x1="737.50" y1="143.90" x2="733.20" y2="143.90"/>
<line x1="92.50" y1="128.85" x2="96.80" y2="128.85"/>
<line x1="737.50" y1="128.85" x2="733.20" y2="128.85"/>
<line x1="92.50" y1="113.81" x2="96.80" y2="113.81"/>
<line x1="737.50" y1="113.81" x2="733.20" y2="113.81"/>
<line x1="92.50" y1="98.76" x2="96.80" y2="98.76"/>
<line x1="737.50" y1="98.76" x2="733.20" y2="98.76"/>
<line x1="92.50" y1="83.72" x2="98.80" y2="83.72"/>
<line x1="737.50" y1="83.72" x2="731.20" y2="83.72"/>
<line x1="92.50" y1="68.68" x2="96.80" y2="68.68"/>
<line x1="737.50" y1="68.68" x2="733.20" y2="68.68"/>
<line x1="92.50" y1="53.63" x2="96.80" y2="53.63"/>
<line x1="737.50" y1="53.63" x2="733.20" y2="53.63"/>
<line x1="92.50" y1="38.59" x2="96.80" y2="38.59"/>
<line x1="737.50" y1="38.59" x2="733.20" y2="38.59"/>
<line x1="92.50" y1="23.54" x2="96.80" y2="23.54"/>
<line x1="737.50" y1="23.54" x2="733.20" y2="23.54"/>
<line x1="92.50" y1="8.50" x2="98.80" y2="8.50"/>
<line x1="737.50" y1="8.50" x2="731.20" y2="8.50"/>
</g>
<g font-weight="bold" font-size="20px">
<text x="92.50" y="482.6" text-anchor="middle" textLength="38.3" lengthAdjust="spacingAndGlyphs">0.00</text>
<text x="253.75" y="482.6" text-anchor="middle" textLength="38.3" lengthAdjust="spacingAndGlyphs">0.02</text>
<text x="415.00" y="482.6" text-anchor="middle" textLength="38.3" lengthAdjust="spacingAndGlyphs">0.04</text>
<text x="576.25" y="482.6" text-anchor="middle" textLength="38.3" lengthAdjust="spacingAndGlyphs">0.06</text>
<text x="737.50" y="482.6" text-anchor="middle" textLength="38.3" lengthAdjust="spacingAndGlyphs">0.08</text>
<text x="88.3" y="15.10" text-anchor="end" textLength="10.6" lengthAdjust="spacingAndGlyphs">5</text>
<text x="88.3" y="90.32" text-anchor="end" textLength="10.6" lengthAdjust="spacingAndGlyphs">4</text>
<text x="88.3" y="165.54" text-anchor="end" textLength="10.6" lengthAdjust="spacingAndGlyphs">3</text>
<text x="88.3" y="240.76" text-anchor="end" textLength="10.6" lengthAdjust="spacingAndGlyphs">2</text>
<text x="88.3" y="315.98" text-anchor="end" textLength="10.6" lengthAdjust="spacingAndGlyphs">1</text>
<text x="88.3" y="391.20" text-anchor="end" textLength="10.6" lengthAdjust="spacingAndGlyphs">0</text>
<text x="88.3" y="466.82" text-anchor="end" textLength="10.2" lengthAdjust="spacingAndGlyphs">1</text>
<text x="61.9" y="466.82" textLength="13" lengthAdjust="spacingAndGlyphs" stroke="#000" stroke-width="0.5">−</text>
</g>
<!-- legend -->
<g fill="none" stroke-linecap="butt">
</g>
<g font-size="20px" fill="none">
<path d="M111.9,83.4 H159.8" stroke="#0000ff" stroke-width="3.2" stroke-dasharray="9.8 8"/>
<path d="M111.9,112.7 H159.8" stroke="#0000ff" stroke-width="1.5" stroke-dasharray="15.9 15.9"/>
<path d="M111.9,141.2 H159.8" stroke="#2ca02c" stroke-width="1.9" stroke-dasharray="5 5.7"/>
<path d="M111.9,172.0 H159.8" stroke="#aa00aa" stroke-width="3.5" stroke-dasharray="1.8 4.9 6.3 4.8"/>
<path d="M111.9,202.8 H163.8" stroke="#ff0000" stroke-width="1.9"/>
<text x="170.6" y="88.2" textLength="140.5" lengthAdjust="spacingAndGlyphs" stroke="#000" stroke-width="0.25">Talukdar et al. (I)</text>
<text x="170.6" y="117.3" textLength="146.5" lengthAdjust="spacingAndGlyphs" stroke="#000" stroke-width="0.25">Talukdar et al. (II)</text>
<text x="170.6" y="145.9" textLength="136.3" lengthAdjust="spacingAndGlyphs" stroke="#000" stroke-width="0.25">Choudhary et al.</text>
<text x="170.6" y="176.8" textLength="180.7" lengthAdjust="spacingAndGlyphs" stroke="#000" stroke-width="0.25">This work (Only NLO)</text>
<text x="170.6" y="207.2" textLength="197.5" lengthAdjust="spacingAndGlyphs" stroke="#000" stroke-width="0.25">This work (Upto NNLO)</text>
</g>
<!-- title box -->
<rect x="302.45" y="20.6" width="224.9" height="47.0" fill="#fff" stroke="#000" stroke-width="2.1"/>
<g class="sans" font-size="24.6px" style="font-family:'Liberation Sans',sans-serif" stroke="#000" stroke-width="0.25">
<text class="sans" x="309" y="52.4">p = 210</text>
<text class="sans" x="400.2" y="52.4">MeV/c</text>
<text class="sans" x="477.6" y="52.4">(</text>
<text class="sans" x="486.2" y="52.4" font-style="italic">μ</text>
<text class="sans" x="501.5" y="40.6" font-size="16px">−</text>
<text class="sans" x="512.2" y="52.4">)</text>
</g>
<!-- x label -->
<g font-size="26.5px">
<text x="339.7" y="523.1" stroke="#000" stroke-width="0.4">|</text>
<text x="347.4" y="523.1" font-style="italic">Q</text>
<text x="366.6" y="512.1" font-size="18.5px" textLength="10.2" lengthAdjust="spacingAndGlyphs">2</text>
<text x="377.3" y="523.1" stroke="#000" stroke-width="0.4">|</text>
<text x="390.2" y="523.1" textLength="89.8" lengthAdjust="spacingAndGlyphs">(GeV/c)</text>
<text x="479.4" y="511.9" font-size="18.5px" textLength="10.2" lengthAdjust="spacingAndGlyphs">2</text>
</g>
<!-- y label -->
<g transform="translate(34.6,304) rotate(-90)">
<text x="0" y="0" font-size="35px" font-style="italic" textLength="20.6" lengthAdjust="spacingAndGlyphs">δ</text>
<text x="19.6" y="-15.3" font-size="22px" textLength="59.5" lengthAdjust="spacingAndGlyphs">(TPE)</text>
<text x="17.5" y="8.2" font-size="28px" font-style="italic">γγ</text>
<text x="88.4" y="0.9" font-size="33px" textLength="50.8" lengthAdjust="spacing">(<tspan font-style="italic">%</tspan>)</text>
<line x1="0" y1="-32.9" x2="82" y2="-32.9" stroke="#000" stroke-width="1.6"/>
</g>
</svg>
</body></html>
